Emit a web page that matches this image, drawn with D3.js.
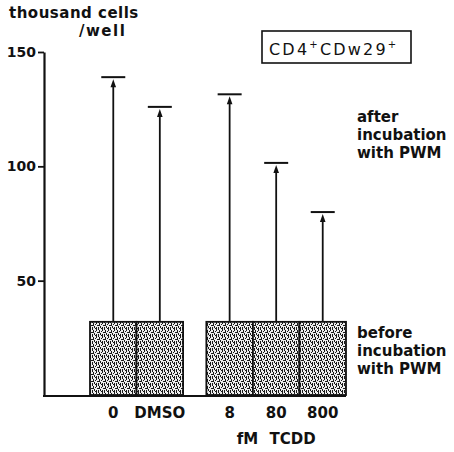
<!DOCTYPE html>
<html>
<head>
<meta charset="utf-8">
<script src="https://cdn.jsdelivr.net/npm/d3@7"></script>
<style>
  body { margin: 0; background: #fff; }
  svg { display: block; }
  text { font-family: "DejaVu Sans", sans-serif; fill: #111; }
</style>
</head>
<body>
<svg width="454" height="452"></svg>
<script>
// values (thousand cells / well)
const doses = ["0", "DMSO", "8", "80", "800"];
const groups = ["control", "control", "TCDD", "TCDD", "TCDD"];
const beforePWM = [32, 32, 32, 32, 32];
const afterPWM = [139, 126, 131.5, 101.5, 80];
const yTicks = [50, 100, 150];

function drawChart() {
  const svg = d3.select("svg");

  // y axis: 0 at the baseline, 150 at the top tick
  const y = d3.scaleLinear().domain([0, 150]).range([395, 52]);

  // slot index for each bar, half a bar of gap whenever the group changes
  let gaps = 0;
  const slots = doses.map((d, i) => {
    if (i > 0 && groups[i] !== groups[i - 1]) gaps += 0.5;
    return i + gaps;
  });
  const x = d3.scaleLinear().domain([0, 5.5]).range([90, 346]);
  const barW = x(1) - x(0);

  // stipple pattern used for the "before" bars
  const defs = svg.append("defs");
  const pat = defs.append("pattern")
    .attr("id", "stipple")
    .attr("patternUnits", "userSpaceOnUse")
    .attr("width", 6)
    .attr("height", 7);
  pat.append("rect").attr("width", 6).attr("height", 7).attr("fill", "#eeeeee");
  const specks = [[0, 0, 1, 2], [3, 1, 1, 2], [1, 3, 2, 1], [4, 4, 1, 2], [0, 5, 1, 2],
    [2, 5, 1, 2], [5, 2, 1, 1], [2, 0, 1, 1], [5, 6, 1, 1], [3, 3, 1, 1]];
  pat.selectAll("rect.s")
    .data(specks)
    .enter()
    .append("rect")
    .attr("class", "s")
    .attr("x", d => d[0]).attr("y", d => d[1])
    .attr("width", d => d[2]).attr("height", d => d[3])
    .attr("fill", "#1a1a1a");

  // bars before incubation
  svg.append("g")
    .selectAll("rect")
    .data(beforePWM)
    .enter()
    .append("rect")
    .attr("x", (d, i) => x(slots[i]))
    .attr("y", d => y(d))
    .attr("width", barW)
    .attr("height", d => y(0) - y(d))
    .attr("fill", "url(#stipple)")
    .attr("stroke", "#111")
    .attr("stroke-width", 1.8);

  // arrows up to the value after incubation
  const arrows = svg.append("g");
  afterPWM.forEach((v, i) => {
    const cx = x(slots[i]) + barW / 2;
    const top = y(v);
    arrows.append("line")
      .attr("x1", cx).attr("x2", cx)
      .attr("y1", y(beforePWM[i])).attr("y2", top + 8)
      .attr("stroke", "#111")
      .attr("stroke-width", 1.8);
    arrows.append("path")
      .attr("d", `M${cx},${top + 2} L${cx - 2.8},${top + 10} L${cx + 2.8},${top + 10} Z`)
      .attr("fill", "#111");
    arrows.append("line")
      .attr("x1", cx - 12).attr("x2", cx + 12)
      .attr("y1", top).attr("y2", top)
      .attr("stroke", "#111")
      .attr("stroke-width", 2);
  });

  // y axis
  const yAxis = d3.axisLeft(y)
    .tickValues(yTicks)
    .tickSize(6)
    .tickSizeOuter(0)
    .tickPadding(2);
  const ax = svg.append("g")
    .attr("transform", "translate(44,0)")
    .call(yAxis);
  ax.select(".domain").attr("stroke", "#111").attr("stroke-width", 2.2);
  ax.selectAll(".tick line").attr("stroke", "#111").attr("stroke-width", 1.8);
  ax.selectAll(".tick text")
    .style("font-family", "DejaVu Sans")
    .style("font-weight", "bold")
    .style("font-size", "14px")
    .style("fill", "#111");

  // baseline
  svg.append("line")
    .attr("x1", 43).attr("x2", x(slots[slots.length - 1]) + barW)
    .attr("y1", y(0) + 1).attr("y2", y(0) + 1)
    .attr("stroke", "#111")
    .attr("stroke-width", 2.2);

  // dose labels
  svg.append("g")
    .selectAll("text")
    .data(doses)
    .enter()
    .append("text")
    .attr("x", (d, i) => x(slots[i]) + barW / 2)
    .attr("y", 418)
    .attr("text-anchor", "middle")
    .attr("font-weight", "bold")
    .attr("font-size", 15)
    .text(d => d);

  svg.append("text")
    .attr("x", x(slots[3]) + barW / 2)
    .attr("y", 444)
    .attr("text-anchor", "middle")
    .attr("font-weight", "bold")
    .attr("font-size", 15)
    .attr("word-spacing", 6)
    .text("fM TCDD");

  // y axis title
  svg.append("text")
    .attr("x", 9).attr("y", 18)
    .attr("font-weight", "bold")
    .attr("font-size", 15)
    .attr("letter-spacing", 0.5)
    .text("thousand cells");
  svg.append("text")
    .attr("x", 79).attr("y", 36)
    .attr("font-weight", "bold")
    .attr("font-size", 15)
    .attr("letter-spacing", 1.5)
    .text("/well");

  // boxed subset label
  svg.append("rect")
    .attr("x", 262).attr("y", 31)
    .attr("width", 149).attr("height", 32)
    .attr("fill", "none")
    .attr("stroke", "#111")
    .attr("stroke-width", 1.6);
  const lab = svg.append("text")
    .attr("x", 269).attr("y", 55)
    .attr("font-size", 16)
    .attr("letter-spacing", 2.2);
  lab.append("tspan").text("CD4");
  lab.append("tspan").attr("font-size", 10).attr("dy", -7).text("+");
  lab.append("tspan").attr("dy", 7).text("CDw29");
  lab.append("tspan").attr("font-size", 10).attr("dy", -7).text("+");

  // side notes
  const note = (lines, y0) => {
    svg.append("g")
      .selectAll("text")
      .data(lines)
      .enter()
      .append("text")
      .attr("x", 357)
      .attr("y", (d, i) => y0 + i * 18)
      .attr("font-weight", "bold")
      .attr("font-size", 15)
      .text(d => d);
  };
  note(["after", "incubation", "with PWM"], 122);
  note(["before", "incubation", "with PWM"], 338);
}

window.addEventListener("load", drawChart);
</script>
</body>
</html>
